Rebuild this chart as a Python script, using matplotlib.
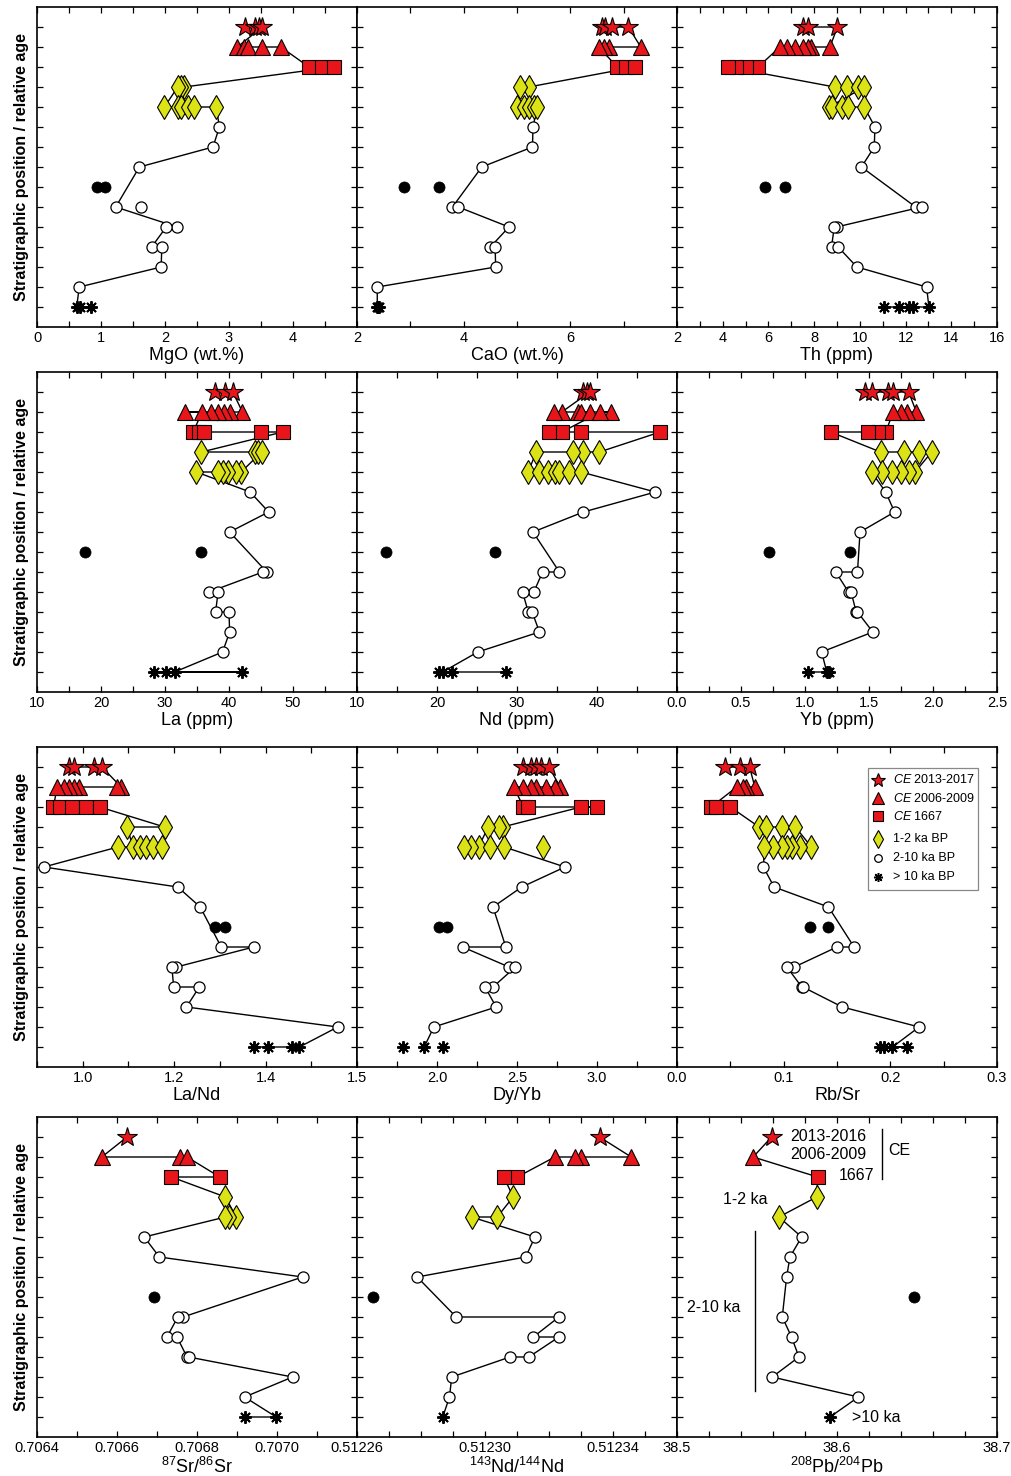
import numpy as np
import matplotlib
matplotlib.use('Agg')
import matplotlib.pyplot as plt
from matplotlib.patches import Rectangle

plt.rcParams['font.family'] = ['Liberation Sans', 'DejaVu Sans']
plt.rcParams['mathtext.fontset'] = 'custom'
plt.rcParams['mathtext.rm'] = 'Liberation Sans'
plt.rcParams['mathtext.it'] = 'Liberation Sans:italic'
plt.rcParams['mathtext.default'] = 'regular'

RED = '#e8161b'
YEL = '#dbe215'

# stratigraphic levels from top (15) to bottom (1); level 7 only has the black dots
LEVELS = list(range(15, 0, -1))

# --- data: x values per level, in the order the line runs through them ---
mgo_path = [[3.25, 3.40, 3.47, 3.52], [3.13, 3.24, 3.29, 3.52, 3.81], [4.25, 4.45, 4.64],
            [2.30, 2.25, 2.20], [1.99, 2.20, 2.25, 2.36, 2.46, 2.80], [2.85], [2.75], [1.60], [],
            [1.23], [2.19, 2.02], [1.79, 1.95], [1.94], [0.66], [0.62, 0.67, 0.85]]
mgo_black = [0.93, 1.06]
mgo_loose = [(6, 1.62)]

cao_path = [[6.60, 6.65, 6.78, 7.09], [7.32, 6.72, 6.63, 6.53], [6.88, 7.04, 7.22],
            [5.22, 5.05], [5.00, 5.13, 5.22, 5.32, 5.38], [5.30], [5.29], [4.34], [],
            [3.79, 3.90], [4.85], [4.50, 4.59], [4.60], [2.38], [2.38, 2.40, 2.42]]
cao_black = [2.88, 3.54]
cao_loose = []

th_path = [[7.52, 7.74, 9.02], [8.69, 7.88, 7.74, 7.52, 7.15, 6.83, 6.50], [5.55, 5.04, 4.60, 4.23],
           [8.90, 9.45, 9.93, 10.20], [8.66, 8.76, 9.20, 9.49, 10.19], [10.66], [10.63], [10.07], [],
           [12.44, 12.70], [8.98, 8.88], [8.76, 9.05], [9.87], [12.92], [13.02, 12.31, 12.16, 11.70, 11.05]]
th_black = [5.84, 6.72]
th_loose = []

la_path = [[37.8, 39.3, 40.6], [42.1, 40.1, 39.2, 38.3, 37.2, 33.2, 35.8], [34.4, 35.3, 36.1, 45.0, 48.4],
           [35.7, 44.0, 44.5, 45.1], [41.9, 41.1, 39.8, 39.1, 38.3, 34.9], [43.3], [46.2], [40.1], [],
           [45.9, 45.3], [36.9, 38.3], [37.9, 40.0], [40.1], [39.0], [31.5, 42.0, 28.3, 30.1]]
la_black = [17.5, 35.7]
la_loose = []

nd_path = [[38.3, 38.7, 39.1], [35.6, 34.6, 37.6, 38.0, 39.1, 41.8, 40.4], [35.6, 34.0, 38.0, 47.9],
           [40.3, 38.3, 37.0, 32.4], [31.4, 32.7, 33.9, 34.7, 35.3, 36.5, 38.0], [47.3], [38.3], [32.0], [],
           [35.3, 33.2], [32.1, 30.7], [31.4, 31.9], [32.8], [25.1], [20.7, 20.2, 21.9, 28.6]]
nd_black = [13.6, 27.3]
nd_loose = []

yb_path = [[1.47, 1.52, 1.65, 1.69, 1.81], [1.87, 1.80, 1.75, 1.69], [1.63, 1.57, 1.49, 1.20],
           [1.59, 1.77, 1.89, 1.99], [1.86, 1.81, 1.75, 1.68, 1.60, 1.52], [1.63], [1.70], [1.43], [],
           [1.41, 1.24], [1.34, 1.36], [1.40, 1.41], [1.53], [1.13], [1.17, 1.19, 1.02]]
yb_black = [0.72, 1.35]
yb_loose = []

lant_path = [[0.969, 0.980, 1.024, 1.042], [1.084, 1.075, 0.991, 0.980, 0.969, 0.958, 0.944],
             [0.936, 0.951, 0.977, 1.008, 1.037], [1.179, 1.097],
             [1.110, 1.126, 1.139, 1.153, 1.174, 1.077], [0.915], [1.208], [1.257], [],
             [1.303, 1.374], [1.205, 1.195], [1.199, 1.255], [1.227], [1.558], [1.474, 1.458, 1.405, 1.374]]
lant_black = [1.290, 1.312]
lant_loose = []

dyyb_path = [[2.54, 2.59, 2.62, 2.65, 2.70], [2.77, 2.74, 2.68, 2.62, 2.59, 2.54, 2.48], [2.54, 2.57, 3.00, 2.90],
             [2.41, 2.39, 2.32], [2.26, 2.21, 2.17, 2.33, 2.42], [2.80], [2.53], [2.35], [],
             [2.43, 2.16], [2.45, 2.49], [2.35, 2.30], [2.37], [1.98], [1.92]]
dyyb_black = [2.01, 2.06]
dyyb_loose = [(11, 2.66), (1, 1.79), (1, 2.04)]

rbsr_path = [[0.045, 0.059, 0.068], [0.073, 0.065, 0.062, 0.056], [0.032, 0.037, 0.050],
             [0.077, 0.083, 0.098, 0.111], [0.126, 0.115, 0.108, 0.103, 0.098, 0.090, 0.082], [0.081], [0.091],
             [0.142], [], [0.166, 0.150], [0.110, 0.103], [0.117, 0.118], [0.155], [0.227],
             [0.202, 0.216, 0.194, 0.190]]
rbsr_black = [0.125, 0.142]
rbsr_loose = []

sr_path = [[0.706625], [0.706562, 0.706758, 0.706775], [0.706857, 0.706736], [0.706871],
           [0.706898, 0.706879, 0.706871], [0.706668], [0.706706], [0.707064], [],
           [0.706765, 0.706752], [0.706725, 0.706750], [0.706775, 0.706779], [0.707039], [0.706919],
           [0.706998, 0.706919]]
sr_black = [0.706693]
sr_loose = []

ndi_path = [[0.5123358], [0.5123457, 0.5123299, 0.5123281, 0.5123218], [0.5123101, 0.5123059], [0.5123088],
            [0.5123038, 0.5122958], [0.5123156], [0.5123127], [0.5122788], [],
            [0.5122910, 0.5123231], [0.5123151, 0.5123231], [0.5123137, 0.5123078], [0.5122896], [0.5122889],
            [0.5122868]]
ndi_black = [0.5122649]
ndi_loose = []

pb_path = [[38.5591], [38.5476], [38.5879], [38.5873], [38.5637], [38.5779], [38.5706], [38.5685], [],
           [38.5658], [38.5716], [38.5762], [38.5595], [38.6134], [38.5956]]
pb_black = [38.6484]
pb_loose = []

# axis setup: label, limits, labelled ticks, small tick step, label format
panels = [
    (mgo_path, mgo_black, mgo_loose, 'MgO (wt.%)', (0, 5), [0, 1, 2, 3, 4], 0.5, '{:.0f}'),
    (cao_path, cao_black, cao_loose, 'CaO (wt.%)', (2, 8), [2, 4, 6], 1, '{:.0f}'),
    (th_path, th_black, th_loose, 'Th (ppm)', (2, 16), [2, 4, 6, 8, 10, 12, 14, 16], 1, '{:.0f}'),
    (la_path, la_black, la_loose, 'La (ppm)', (10, 60), [10, 20, 30, 40, 50], 5, '{:.0f}'),
    (nd_path, nd_black, nd_loose, 'Nd (ppm)', (10, 50), [10, 20, 30, 40], 5, '{:.0f}'),
    (yb_path, yb_black, yb_loose, 'Yb (ppm)', (0, 2.5), [0, 0.5, 1.0, 1.5, 2.0, 2.5], 0.25, '{:.1f}'),
    (lant_path, lant_black, lant_loose, 'La/Nd', (0.9, 1.6), [1.0, 1.2, 1.4], 0.1, '{:.1f}'),
    (dyyb_path, dyyb_black, dyyb_loose, 'Dy/Yb', (1.5, 3.5), [1.5, 2.0, 2.5, 3.0], 0.25, '{:.1f}'),
    (rbsr_path, rbsr_black, rbsr_loose, 'Rb/Sr', (0, 0.3), [0, 0.1, 0.2, 0.3], 0.05, '{:.1f}'),
    (sr_path, sr_black, sr_loose, '$^{87}$Sr/$^{86}$Sr', (0.7064, 0.7072),
     [0.7064, 0.7066, 0.7068, 0.7070], 0.0001, '{:.4f}'),
    (ndi_path, ndi_black, ndi_loose, '$^{143}$Nd/$^{144}$Nd', (0.51226, 0.51236),
     [0.51226, 0.51230, 0.51234], 0.00001, '{:.5f}'),
    (pb_path, pb_black, pb_loose, '$^{208}$Pb/$^{204}$Pb', (38.5, 38.7), [38.5, 38.6, 38.7], 0.02, '{:.1f}'),
]

STAR = dict(marker='*', ms=15, mfc=RED, mec='k', mew=0.8)
TRI = dict(marker='^', ms=11.5, mfc=RED, mec='k', mew=0.8)
SQ = dict(marker='s', ms=10, mfc=RED, mec='k', mew=0.8)
DIA = dict(marker='d', ms=12.5, mfc=YEL, mec='k', mew=0.8)
CIRC = dict(marker='o', ms=8, mfc='white', mec='k', mew=0.9)
AST = dict(marker=(8, 2, 0), ms=9, mfc='k', mec='k', mew=1.4)
DOT = dict(marker='o', ms=8, mfc='k', mec='k', mew=0.5)


def style(level):
    if level == 15:
        return STAR
    if level == 14:
        return TRI
    if level == 13:
        return SQ
    if level in (11, 12):
        return DIA
    if level == 1:
        return AST
    return CIRC


fig = plt.figure(figsize=(10.11, 14.76), dpi=100)
W, H = 1011, 1476
col_left = [37, 357, 677]
row_top = [7, 372, 747, 1117]
size = 320

axes = []
for i, p in enumerate(panels):
    path, black, loose, xlabel, xlim, labticks, step, fmt = p
    r, c = divmod(i, 3)
    ax = fig.add_axes([col_left[c] / W, 1 - (row_top[r] + size) / H, size / W, size / H])
    axes.append(ax)

    xs, ys = [], []
    for lev, vals in zip(LEVELS, path):
        for v in vals:
            xs.append(v)
            ys.append(lev)
    ax.plot(xs, ys, color='k', lw=1.0, zorder=2)
    for lev, vals in zip(LEVELS, path):
        for v in vals:
            ax.plot([v], [lev], ls='none', zorder=3, **style(lev))
    for lev, v in loose:
        ax.plot([v], [lev], ls='none', zorder=3, **style(lev))
    ax.plot(black, [7] * len(black), ls='none', zorder=3, **DOT)

    ax.set_xlim(*xlim)
    ax.set_ylim(0, 16)
    ax.set_xticks(labticks)
    ax.set_xticklabels([fmt.format(t) for t in labticks])
    n = int(round((xlim[1] - xlim[0]) / step))
    ax.set_xticks([xlim[0] + k * step for k in range(n + 1)], minor=True)
    ax.set_yticks(range(1, 16))
    ax.tick_params(which='both', direction='in', top=True, right=True, length=4.5, width=0.9,
                   labelsize=10.5, pad=3, labelleft=False)
    for s in ax.spines.values():
        s.set_linewidth(1.2)
    ax.set_xlabel(xlabel, fontsize=13, labelpad=1)
    if c == 0:
        ax.set_ylabel('Stratigraphic position / relative age', fontsize=11.5, fontweight='bold', labelpad=6)

# legend in the Rb/Sr panel
lax = axes[8]
lax.add_patch(Rectangle((0.596, 0.553), 0.345, 0.38, transform=lax.transAxes, fill=False,
                        ec='#888888', lw=0.9, zorder=4))
leg_items = [
    (STAR, 10, '$\\mathit{CE}$ 2013-2017', 0.897),
    (TRI, 8, '$\\mathit{CE}$ 2006-2009', 0.840),
    (SQ, 7.5, '$\\mathit{CE}$ 1667', 0.784),
    (DIA, 9, '1-2 ka BP', 0.712),
    (CIRC, 5.5, '2-10 ka BP', 0.652),
    (AST, 6.5, '> 10 ka BP', 0.595),
]
for st, ms, txt, yy in leg_items:
    kw = dict(st)
    kw['ms'] = ms
    if st is AST:
        kw['mew'] = 1.1
    lax.plot([0.629], [yy], transform=lax.transAxes, ls='none', zorder=5, clip_on=False, **kw)
    lax.text(0.676, yy, txt, transform=lax.transAxes, fontsize=9, va='center', ha='left', zorder=5)

# annotations in the Pb panel
pax = axes[11]
notes = [
    (38.5706, 15.03, '2013-2016'),
    (38.5706, 14.12, '2006-2009'),
    (38.6008, 13.08, '1667'),
    (38.6321, 14.33, 'CE'),
    (38.5289, 11.88, '1-2 ka'),
    (38.5061, 6.47, '2-10 ka'),
    (38.6092, 1.0, '>10 ka'),
]
for x, y, t in notes:
    pax.text(x, y, t, fontsize=11.5, ha='left', va='center')
pax.plot([38.628, 38.628], [15.38, 12.88], color='k', lw=1.0)
pax.plot([38.549, 38.549], [10.28, 2.28], color='k', lw=1.0)

fig.savefig('out.png', dpi=100)
